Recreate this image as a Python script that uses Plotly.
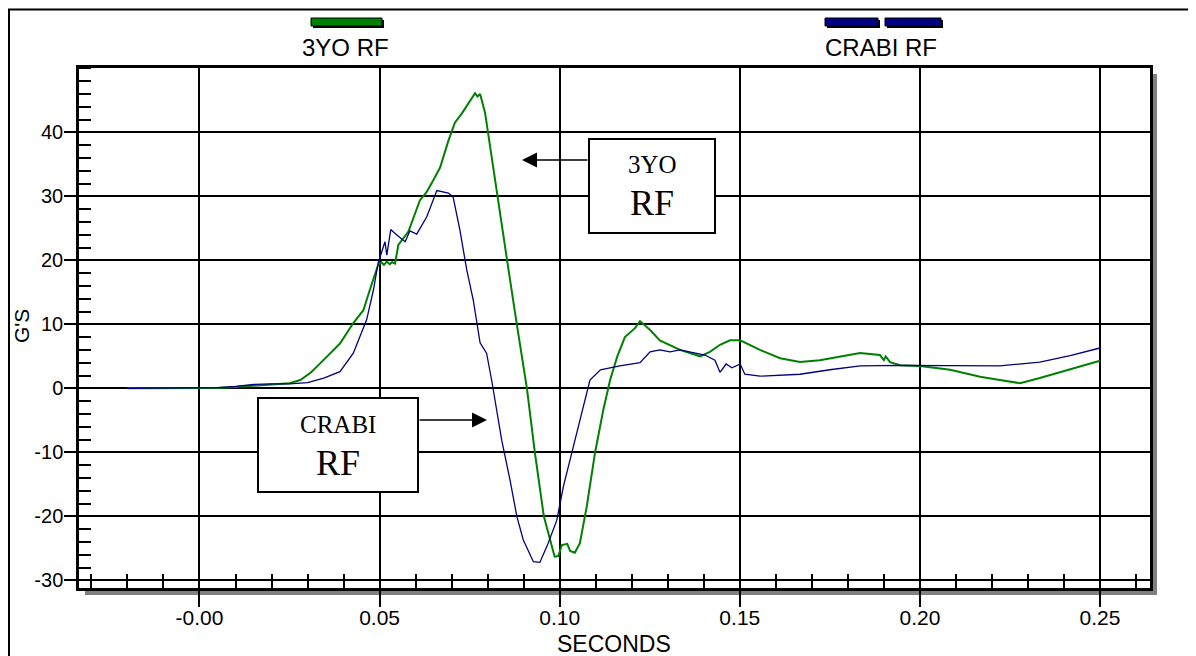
import plotly.graph_objects as go

# ---------------- data ----------------
t_3yo = [-0.0200, -0.0100, 0.0000, 0.0050, 0.0100, 0.0150, 0.0200, 0.0250, 0.0280, 0.0310,
         0.0335, 0.0390, 0.0427, 0.0455, 0.0473, 0.0487, 0.0496, 0.0505, 0.0512, 0.0520,
         0.0528, 0.0535, 0.0543, 0.0552, 0.0580, 0.0612, 0.0631, 0.0649, 0.0668, 0.0690,
         0.0709, 0.0729, 0.0751, 0.0765, 0.0772, 0.0779, 0.0793, 0.0807, 0.0826, 0.0854,
         0.0881, 0.0909, 0.0931, 0.0956, 0.0986, 0.0996, 0.1006, 0.1021, 0.1029, 0.1042,
         0.1056, 0.1075, 0.1098, 0.1121, 0.1140, 0.1160, 0.1181, 0.1209, 0.1223, 0.1251,
         0.1278, 0.1334, 0.1390, 0.1417, 0.1445, 0.1473, 0.1501, 0.1556, 0.1612, 0.1667,
         0.1722, 0.1778, 0.1834, 0.1889, 0.1900, 0.1905, 0.1917, 0.1945, 0.2000, 0.2084,
         0.2167, 0.2222, 0.2278, 0.2333, 0.2389, 0.2444, 0.2500]
g_3yo = [0.0, 0.0, 0.0, 0.05, 0.2, 0.4, 0.6, 0.8, 1.3, 2.5,
         3.9, 7.0, 10.2, 12.2, 15.4, 18.0, 19.3, 19.7, 19.3, 19.8,
         19.4, 19.7, 19.5, 22.4, 24.5, 29.4, 30.7, 32.5, 34.5, 38.5,
         41.5, 43.0, 45.0, 46.1, 45.6, 46.0, 43.0, 37.6, 30.0, 20.0,
         10.0, 0.0, -10.0, -20.0, -26.3, -26.2, -24.5, -24.3, -25.4, -25.7,
         -24.2, -18.5, -10.1, -3.4, 1.3, 5.0, 8.0, 9.4, 10.5, 9.1,
         7.5, 6.0, 5.0, 5.7, 6.8, 7.5, 7.5, 6.0, 4.7, 4.1,
         4.4, 5.0, 5.5, 5.2, 4.4, 5.0, 4.1, 3.6, 3.5, 2.9,
         1.8, 1.3, 0.8, 1.6, 2.5, 3.5, 4.3]

t_crabi = [-0.0200, -0.0100, 0.0000, 0.0050, 0.0100, 0.0150, 0.0200, 0.0250, 0.0300, 0.0345,
           0.0390, 0.0427, 0.0464, 0.0483, 0.0496, 0.0515, 0.0520, 0.0531, 0.0547, 0.0571,
           0.0584, 0.0603, 0.0631, 0.0659, 0.0691, 0.0704, 0.0723, 0.0742, 0.0760, 0.0779,
           0.0797, 0.0811, 0.0839, 0.0862, 0.0881, 0.0899, 0.0927, 0.0945, 0.0968, 0.0992,
           0.1010, 0.1038, 0.1066, 0.1084, 0.1113, 0.1167, 0.1223, 0.1251, 0.1278, 0.1306,
           0.1334, 0.1362, 0.1403, 0.1431, 0.1445, 0.1462, 0.1478, 0.1501, 0.1514, 0.1556,
           0.1612, 0.1667, 0.1750, 0.1834, 0.1945, 0.2028, 0.2111, 0.2222, 0.2333, 0.2417,
           0.2500]
g_crabi = [0.0, 0.0, 0.0, 0.1, 0.3, 0.6, 0.7, 0.7, 0.9, 1.6,
           2.6, 5.5, 10.7, 15.4, 19.6, 22.9, 20.8, 24.8, 24.0, 22.9,
           24.6, 24.1, 26.8, 30.9, 30.5, 29.9, 24.7, 18.5, 13.8, 7.1,
           5.5, 1.3, -8.1, -14.3, -20.0, -23.7, -27.1, -27.2, -24.2, -20.6,
           -15.4, -9.1, -2.9, 1.3, 2.9, 3.5, 4.0, 5.7, 6.0, 5.7,
           6.0, 5.7, 5.2, 4.4, 2.5, 3.8, 3.2, 3.8, 2.2, 1.9,
           2.1, 2.2, 2.9, 3.5, 3.6, 3.6, 3.5, 3.5, 4.1, 5.1,
           6.3]

series_names = ["3YO RF", "CRABI RF"]
x_tickvals = [0.00, 0.05, 0.10, 0.15, 0.20, 0.25]
x_ticktext = ["-0.00", "0.05", "0.10", "0.15", "0.20", "0.25"]
y_tickvals = [-30, -20, -10, 0, 10, 20, 30, 40]
y_ticktext = ["-30", "-20", "-10", "0", "10", "20", "30", "40"]
x_title = "SECONDS"
y_title = "G'S"

# ---------------- styling / layout ----------------
# The page body has an 8px margin, so the figure is drawn 8px smaller and
# all reference pixel positions below are page positions.
OFF = 8
W, H = 1196 - OFF, 656 - OFF
L, R, T, B = 79, 1150, 68, 588          # plot frame in page pixels
GREEN = "#008000"
NAVY = "#000080"
SANS = "Liberation Sans, Arial, sans-serif"
SERIF = "Liberation Serif, Times New Roman, serif"


def px(x):
    return (x - L) / (R - L)


def py(y):
    return (B - y) / (B - T)


fig = go.Figure()
fig.add_trace(go.Scatter(x=t_3yo, y=g_3yo, mode="lines", name=series_names[0],
                         line=dict(color=GREEN, width=2)))
fig.add_trace(go.Scatter(x=t_crabi, y=g_crabi, mode="lines", name=series_names[1],
                         line=dict(color=NAVY, width=1.3)))

axis_common = dict(showline=True, linecolor="black", linewidth=2.5, mirror=True,
                   showgrid=True, gridcolor="black", gridwidth=2, zeroline=False,
                   tickcolor="black", tickwidth=2, ticks="outside", tickmode="array")

fig.update_layout(
    width=W, height=H, autosize=False,
    margin=dict(l=L - OFF, r=W - (R - OFF), t=T - OFF, b=H - (B - OFF), pad=0),
    paper_bgcolor="white", plot_bgcolor="white",
    showlegend=False,
    font=dict(family=SANS, color="black"),
    xaxis=dict(range=[-0.03345, 0.26388], tickvals=x_tickvals, ticktext=x_ticktext,
               ticklen=16, ticklabelstandoff=-7,
               tickfont=dict(size=21, family=SANS, color="black"),
               minor=dict(tickmode="linear", tick0=0, dtick=0.01, ticks="inside",
                          ticklen=14, tickwidth=1.5, tickcolor="black", showgrid=False),
               **axis_common),
    yaxis=dict(range=[-31.2, 50.05], tickvals=y_tickvals, ticktext=y_ticktext,
               ticklen=12, ticklabelstandoff=-3,
               tickfont=dict(size=20, family=SANS, color="black"),
               minor=dict(tickmode="linear", tick0=0, dtick=2, ticks="inside",
                          ticklen=12, tickwidth=1.5, tickcolor="black", showgrid=False),
               **axis_common),
)

shapes = []
# drop shadow of the plot frame
shapes.append(dict(type="rect", xref="paper", yref="paper", layer="below",
                   x0=px(1151), x1=px(1157), y0=py(595), y1=py(74),
                   fillcolor="#808080", line=dict(width=0)))
shapes.append(dict(type="rect", xref="paper", yref="paper", layer="below",
                   x0=px(85), x1=px(1157), y0=py(595), y1=py(589),
                   fillcolor="#808080", line=dict(width=0)))
# outer border
shapes.append(dict(type="rect", xref="paper", yref="paper",
                   x0=px(9), x1=px(1194), y0=py(670), y1=py(9.5),
                   line=dict(color="black", width=2), fillcolor="rgba(0,0,0,0)"))
# legend swatches (shadow + bar)
for (x0, x1, col) in [(311, 382, GREEN), (825, 878, NAVY), (885, 941, NAVY)]:
    shapes.append(dict(type="rect", xref="paper", yref="paper",
                       x0=px(x0 + 2), x1=px(x1 + 2), y0=py(28), y1=py(20),
                       fillcolor="black", line=dict(width=0)))
    shapes.append(dict(type="rect", xref="paper", yref="paper",
                       x0=px(x0), x1=px(x1), y0=py(26), y1=py(18),
                       fillcolor=col, line=dict(color="black", width=1)))
# callout boxes
for (x0, y0, x1, y1) in [(258, 398, 418, 492), (589, 139, 715, 233)]:
    shapes.append(dict(type="rect", xref="paper", yref="paper", layer="above",
                       x0=px(x0), x1=px(x1), y0=py(y1), y1=py(y0),
                       fillcolor="white", line=dict(color="black", width=2)))
fig.update_layout(shapes=shapes)

ann = []
# legend labels
ann.append(dict(text=series_names[0], x=px(345.5), y=py(48), xref="paper", yref="paper",
                showarrow=False, font=dict(size=24, family=SANS, color="black"),
                xanchor="center", yanchor="middle"))
ann.append(dict(text=series_names[1], x=px(881), y=py(48), xref="paper", yref="paper",
                showarrow=False, font=dict(size=24, family=SANS, color="black"),
                xanchor="center", yanchor="middle"))
# axis titles
ann.append(dict(text=x_title, x=px(613.5), y=py(643.5), xref="paper", yref="paper",
                showarrow=False, font=dict(size=23, family=SANS, color="black"),
                xanchor="center", yanchor="middle"))
ann.append(dict(text=y_title, x=px(21), y=py(326), xref="paper", yref="paper",
                showarrow=False, textangle=-90, font=dict(size=21, family=SANS, color="black"),
                xanchor="center", yanchor="middle"))
# callout texts
ann.append(dict(text="CRABI", x=px(338), y=py(424), xref="paper", yref="paper",
                showarrow=False, font=dict(size=25, family=SERIF, color="black"),
                xanchor="center", yanchor="middle"))
ann.append(dict(text="RF", x=px(338), y=py(463), xref="paper", yref="paper",
                showarrow=False, font=dict(size=36, family=SERIF, color="black"),
                xanchor="center", yanchor="middle"))
ann.append(dict(text="3YO", x=px(652), y=py(164), xref="paper", yref="paper",
                showarrow=False, font=dict(size=25, family=SERIF, color="black"),
                xanchor="center", yanchor="middle"))
ann.append(dict(text="RF", x=px(652), y=py(203), xref="paper", yref="paper",
                showarrow=False, font=dict(size=36, family=SERIF, color="black"),
                xanchor="center", yanchor="middle"))
# arrows
ann.append(dict(text="", x=px(487), y=py(420), xref="paper", yref="paper",
                showarrow=True, ax=-69, ay=0, arrowhead=2, arrowsize=2.0,
                arrowwidth=1.5, arrowcolor="black", standoff=0, startstandoff=0))
ann.append(dict(text="", x=px(522), y=py(160), xref="paper", yref="paper",
                showarrow=True, ax=67, ay=0, arrowhead=2, arrowsize=2.0,
                arrowwidth=1.5, arrowcolor="black", standoff=0, startstandoff=0))
fig.update_layout(annotations=ann)

fig.write_html("out.html")
